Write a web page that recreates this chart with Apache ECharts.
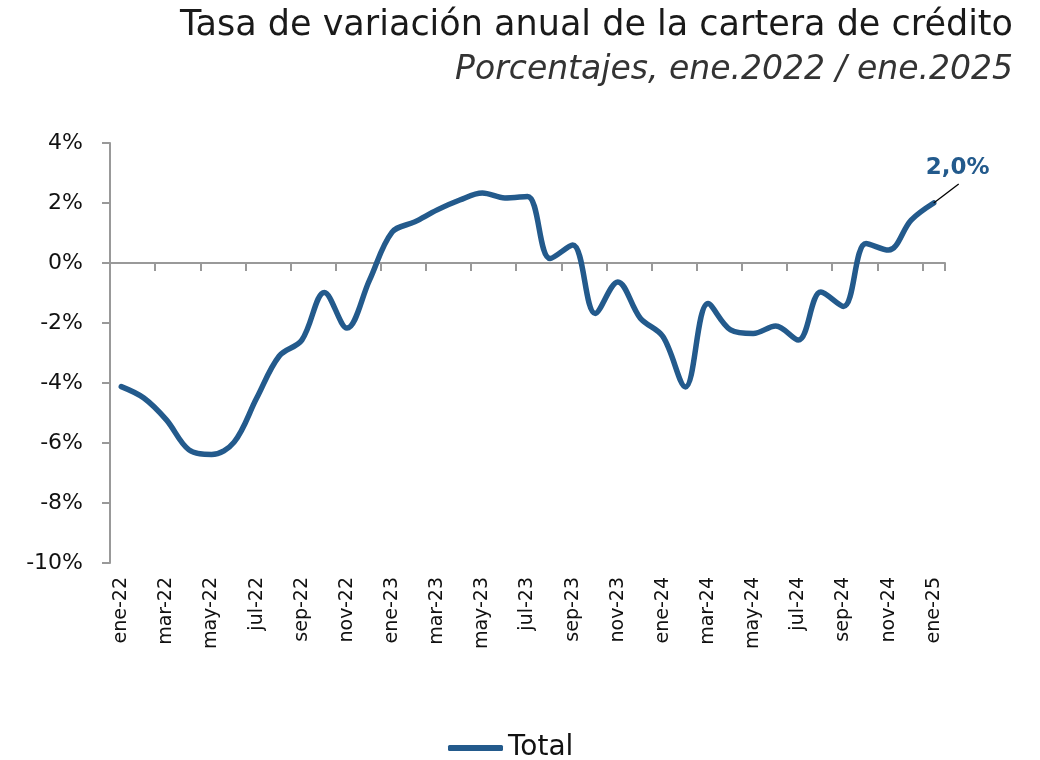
<!DOCTYPE html>
<html><head><meta charset="utf-8">
<script src="https://cdn.jsdelivr.net/npm/echarts@6/dist/echarts.min.js"></script>
<style>html,body{margin:0;padding:0;background:#fff}#c{width:1040px;height:760px}</style>
</head><body><div id="c"></div>
<script>
const categories = ['ene-22','feb-22','mar-22','abr-22','may-22','jun-22','jul-22','ago-22','sep-22','oct-22','nov-22','dic-22',
  'ene-23','feb-23','mar-23','abr-23','may-23','jun-23','jul-23','ago-23','sep-23','oct-23','nov-23','dic-23',
  'ene-24','feb-24','mar-24','abr-24','may-24','jun-24','jul-24','ago-24','sep-24','oct-24','nov-24','dic-24','ene-25'];
const totalValues = [-4.12,-4.5,-5.23,-6.23,-6.38,-5.97,-4.5,-3.1,-2.57,-0.98,-2.17,-0.57,
  1.03,1.37,1.77,2.1,2.33,2.17,2.22,0.15,0.6,-1.68,-0.63,-1.84,
  -2.45,-4.13,-1.35,-2.23,-2.35,-2.1,-2.57,-0.97,-1.45,0.65,0.43,1.43,2.0];
const yTicks = {min:-10, max:4, interval:2};
const seriesName = 'Total';
const lastLabel = '2,0%';

const FONT = 'DejaVu Sans';
const blue = '#235a8c';
const lastIdx = totalValues.length - 1;
const data = totalValues.map((v,i)=> i===lastIdx ? {
  value: v,
  label: {show:true, formatter: lastLabel, position:'top', distance:4, padding:[0,0,8,0],
          color: blue, fontSize: 23, fontWeight: 'bold', fontFamily: FONT}
} : v);

const chart = echarts.init(document.getElementById('c'));
chart.setOption({
  animation:false,
  title:[
    {text:'Tasa de variación anual de la cartera de crédito', right:22, top:3,
     textStyle:{fontFamily:FONT, fontSize:35, fontWeight:'normal', color:'#1a1a1a'}},
    {text:'Porcentajes, ene.2022 / ene.2025', right:22, top:49,
     textStyle:{fontFamily:FONT, fontSize:33, fontWeight:'normal', fontStyle:'italic', color:'#333'}}
  ],
  legend:{top:729, left:443, icon:'roundRect', itemWidth:55, itemHeight:6, itemGap:5,
    textStyle:{fontFamily:FONT, fontSize:28, color:'#111'}, data:[seriesName]},
  grid:{left:110, right:95, top:143, bottom:197},
  xAxis:[
    {type:'category', data:categories, boundaryGap:true, position:'bottom',
     axisLine:{show:false, onZero:false}, axisTick:{show:false},
     axisLabel:{interval:1, rotate:90, margin:14, fontFamily:FONT, fontSize:19, color:'#111'}},
    {type:'category', data:categories, boundaryGap:true, position:'bottom',
     axisLine:{show:true, onZero:true, lineStyle:{color:'#999', width:2}},
     axisTick:{show:true, interval:(idx)=> idx%2===0, inside:false, length:8, lineStyle:{color:'#999', width:2}},
     axisLabel:{show:false}}
  ],
  yAxis:{type:'value', min:yTicks.min, max:yTicks.max, interval:yTicks.interval,
    axisLine:{show:true, lineStyle:{color:'#999', width:2}},
    axisTick:{show:true, length:8, lineStyle:{color:'#999', width:2}},
    splitLine:{show:false},
    axisLabel:{formatter:'{value}%', margin:27, fontFamily:FONT, fontSize:22, color:'#111'}},
  series:[{
    name:seriesName, type:'line', xAxisIndex:0, data:data, smooth:0.35, showSymbol:true, symbol:'circle', symbolSize:0,
    lineStyle:{color:blue, width:5.5, cap:'round'}, itemStyle:{color:blue},
    labelLayout:{dx:24, dy:-11}
  }]
});
// leader line from the last data point toward its label (position from the chart's own scales)
const p = chart.convertToPixel({xAxisIndex:0, yAxisIndex:0}, [categories[lastIdx], totalValues[lastIdx]]);
chart.setOption({graphic:[{type:'line', z:100,
  shape:{x1:p[0], y1:p[1], x2:p[0]+25, y2:p[1]-19},
  style:{stroke:'#000', lineWidth:1.3}}]});
</script></body></html>
